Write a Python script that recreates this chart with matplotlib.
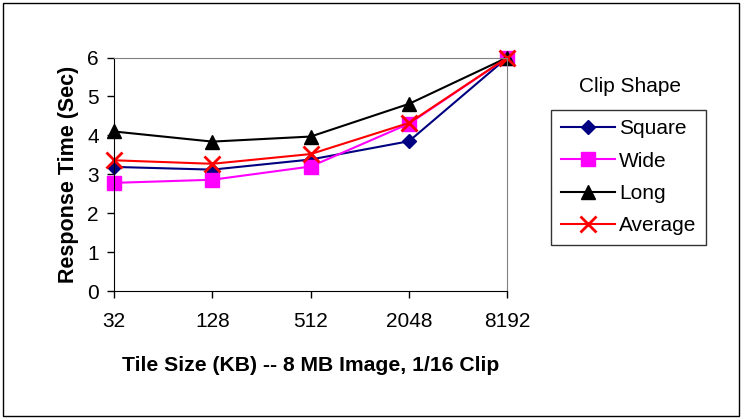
import matplotlib.pyplot as plt
from matplotlib.patches import Rectangle

plt.rcParams['font.family'] = ['Liberation Sans', 'DejaVu Sans']

tile_sizes = ['32', '128', '512', '2048', '8192']
square = [3.19, 3.12, 3.38, 3.85, 6.0]
wide = [2.78, 2.86, 3.20, 4.30, 6.0]
long_ = [4.10, 3.84, 3.97, 4.81, 6.0]
average = [3.36, 3.27, 3.52, 4.32, 6.0]

fig = plt.figure(figsize=(7.45, 4.2), dpi=100)
ax = fig.add_axes([0.153, 0.307, 0.528, 0.556])

x = range(len(tile_sizes))
ax.plot(x, square, color='#000080', marker='D', markersize=7, lw=1.5, label='Square', clip_on=False)
ax.plot(x, wide, color='#ff00ff', marker='s', markersize=10, lw=1.5, label='Wide', clip_on=False)
ax.plot(x, long_, color='black', marker='^', markersize=10, lw=1.5, label='Long', clip_on=False)
ax.plot(x, average, color='red', marker='x', markersize=11, mew=2, lw=1.5, label='Average', clip_on=False)

ax.set_xlim(0, 4)
ax.set_ylim(0, 6)
ax.set_xticks(list(x))
ax.set_xticklabels(tile_sizes)
ax.set_yticks(range(7))
ax.tick_params(direction='out', length=5, labelsize=15, width=1)
ax.tick_params(axis='x', pad=10)
ax.tick_params(axis='y', pad=6)
for side in ['top', 'right']:
    ax.spines[side].set_color('#808080')
for side in ['left', 'bottom']:
    ax.spines[side].set_color('black')

ax.set_xlabel('Tile Size (KB) -- 8 MB Image, 1/16 Clip', fontsize=15.2, fontweight='bold', labelpad=18)
ax.set_ylabel('Response Time (Sec)', fontsize=15.5, fontweight='bold', labelpad=6)

leg = ax.legend(loc='upper left', bbox_to_anchor=(0.74, 0.738), bbox_transform=fig.transFigure,
                fontsize=15, frameon=True, fancybox=False, edgecolor='black',
                handlelength=2.6, borderpad=0.45, labelspacing=0.64, handletextpad=0.2,
                borderaxespad=0)
leg.get_frame().set_linewidth(1)
fig.text(0.846, 0.793, 'Clip Shape', fontsize=15, ha='center', va='center')

fig.patches.append(Rectangle((0.004, 0.01), 0.988, 0.982, transform=fig.transFigure,
                             fill=False, edgecolor='black', lw=1))

fig.savefig('out.png', dpi=100)
